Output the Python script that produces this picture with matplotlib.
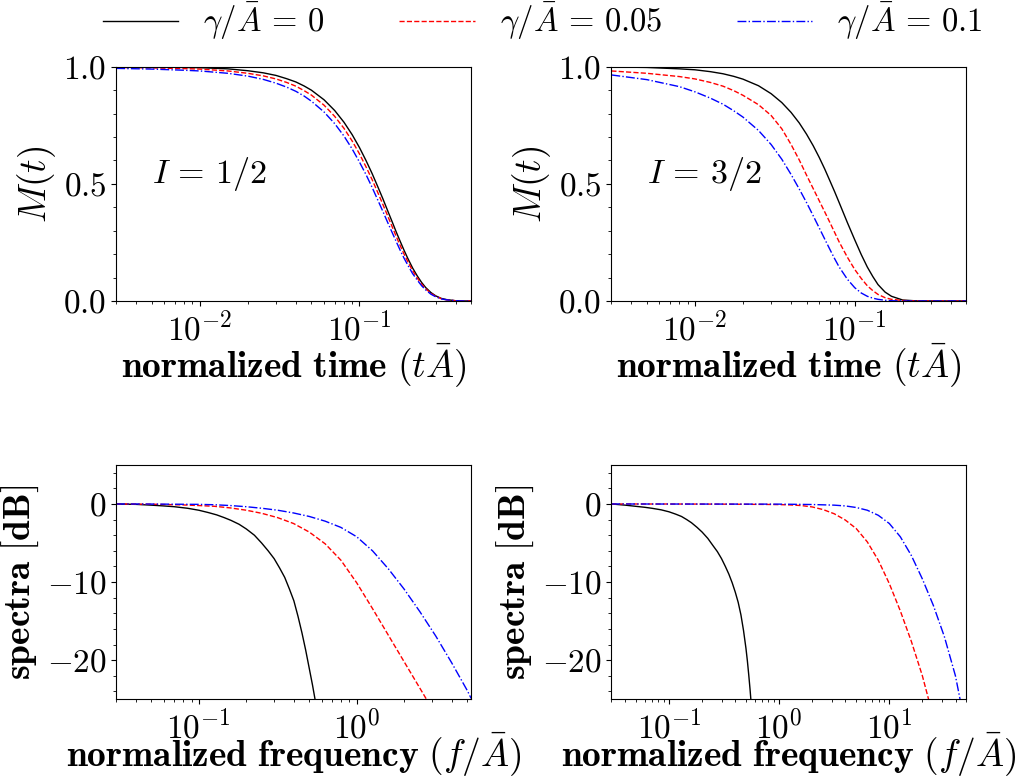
import numpy as np
import matplotlib
matplotlib.use('Agg')
import matplotlib.pyplot as plt
from matplotlib.ticker import AutoMinorLocator

plt.rcParams['mathtext.fontset'] = 'cm'
plt.rcParams['font.family'] = 'serif'
plt.rcParams['font.serif'] = ['cmr10']
plt.rcParams['axes.formatter.use_mathtext'] = True
plt.rcParams['axes.unicode_minus'] = True

# legend labels
labels = [r'$\gamma/\bar{A}\,=\,0$', r'$\gamma/\bar{A}\,=\,0.05$', r'$\gamma/\bar{A}\,=\,0.1$']

# ---- time domain, I = 1/2
t_half = [0.003, 0.005, 0.008, 0.01, 0.015, 0.02, 0.025, 0.03, 0.035, 0.04, 0.045, 0.05,
          0.06, 0.07, 0.08, 0.09, 0.1, 0.11, 0.12, 0.13, 0.14, 0.15, 0.16, 0.17, 0.18, 0.19,
          0.2, 0.215, 0.23, 0.245, 0.26, 0.28, 0.3, 0.325, 0.35, 0.4, 0.45, 0.5]
M_half_0 = [1.000, 0.999, 0.997, 0.996, 0.991, 0.983, 0.974, 0.963, 0.949, 0.935, 0.918, 0.900,
            0.859, 0.813, 0.763, 0.710, 0.655, 0.599, 0.544, 0.489, 0.437, 0.386, 0.339, 0.294,
            0.254, 0.217, 0.184, 0.141, 0.107, 0.079, 0.057, 0.036, 0.022, 0.011, 0.006, 0.001,
            0.0, 0.0]
M_half_1 = [0.997, 0.995, 0.992, 0.990, 0.982, 0.972, 0.961, 0.948, 0.933, 0.917, 0.898, 0.879,
            0.836, 0.788, 0.737, 0.683, 0.628, 0.572, 0.518, 0.464, 0.413, 0.364, 0.318, 0.275,
            0.236, 0.201, 0.170, 0.130, 0.098, 0.072, 0.052, 0.033, 0.020, 0.010, 0.005, 0.001,
            0.0, 0.0]
M_half_2 = [0.993, 0.990, 0.985, 0.982, 0.972, 0.960, 0.946, 0.930, 0.913, 0.895, 0.875, 0.853,
            0.807, 0.757, 0.704, 0.649, 0.593, 0.539, 0.485, 0.432, 0.383, 0.336, 0.293, 0.253,
            0.216, 0.183, 0.155, 0.117, 0.089, 0.065, 0.047, 0.029, 0.018, 0.009, 0.005, 0.001,
            0.0, 0.0]

# ---- time domain, I = 3/2
t_3half = [0.003, 0.005, 0.008, 0.01, 0.0125, 0.015, 0.0175, 0.02, 0.025, 0.03, 0.035, 0.04,
           0.045, 0.05, 0.055, 0.06, 0.065, 0.07, 0.075, 0.08, 0.09, 0.1, 0.11, 0.12, 0.13,
           0.14, 0.155, 0.17, 0.2, 0.25, 0.3, 0.5]
M_3half_0 = [0.999, 0.997, 0.991, 0.987, 0.979, 0.970, 0.959, 0.947, 0.919, 0.885, 0.847, 0.805,
             0.760, 0.712, 0.663, 0.613, 0.563, 0.513, 0.466, 0.420, 0.335, 0.262, 0.198, 0.145,
             0.104, 0.070, 0.038, 0.020, 0.004, 0.0, 0.0, 0.0]
M_3half_1 = [0.982, 0.972, 0.958, 0.948, 0.933, 0.917, 0.898, 0.878, 0.838, 0.792, 0.735, 0.668,
             0.602, 0.537, 0.480, 0.428, 0.380, 0.335, 0.292, 0.252, 0.187, 0.135, 0.096, 0.065,
             0.044, 0.028, 0.014, 0.007, 0.002, 0.0, 0.0, 0.0]
M_3half_2 = [0.965, 0.945, 0.915, 0.893, 0.866, 0.840, 0.812, 0.785, 0.728, 0.668, 0.605, 0.540,
             0.478, 0.420, 0.364, 0.312, 0.264, 0.220, 0.180, 0.145, 0.093, 0.057, 0.034, 0.020,
             0.012, 0.007, 0.003, 0.001, 0.0, 0.0, 0.0, 0.0]

# ---- spectra, I = 1/2
f_half_0 = [0.03, 0.04, 0.05, 0.06, 0.07, 0.085, 0.1, 0.115, 0.13, 0.145, 0.16, 0.18, 0.2,
            0.225, 0.25, 0.275, 0.3, 0.325, 0.35, 0.375, 0.4, 0.425, 0.45, 0.475, 0.5, 0.525, 0.55]
S_half_0 = [0.0, -0.05, -0.15, -0.25, -0.35, -0.55, -0.8, -1.1, -1.4, -1.75, -2.1, -2.6, -3.2,
            -4.0, -5.0, -6.0, -7.0, -8.2, -9.4, -10.9, -12.4, -14.4, -16.5, -18.7, -21.0, -23.2, -25.5]
f_half_1 = [0.03, 0.05, 0.079, 0.1, 0.126, 0.158, 0.2, 0.251, 0.316, 0.398, 0.501, 0.631,
            0.794, 1.0, 1.259, 1.585, 1.995, 2.512, 2.818]
S_half_1 = [0.0, -0.03, -0.12, -0.2, -0.3, -0.5, -0.8, -1.2, -1.75, -2.5, -3.6, -5.1, -7.2,
            -10.1, -13.4, -16.8, -20.2, -23.6, -25.3]
f_half_2 = [0.03, 0.05, 0.1, 0.126, 0.158, 0.2, 0.251, 0.316, 0.398, 0.501, 0.631, 0.794, 1.0,
            1.259, 1.585, 1.995, 2.512, 3.162, 3.981, 5.012, 5.3]
S_half_2 = [0.0, -0.01, -0.05, -0.1, -0.2, -0.35, -0.55, -0.8, -1.15, -1.6, -2.2, -3.0, -4.2,
            -6.0, -8.3, -10.9, -13.8, -16.9, -20.3, -23.9, -24.9]

# ---- spectra, I = 3/2
f_3half_0 = [0.03, 0.04, 0.05, 0.06, 0.07, 0.085, 0.1, 0.115, 0.13, 0.145, 0.16, 0.18, 0.2,
             0.225, 0.25, 0.275, 0.3, 0.325, 0.35, 0.375, 0.4, 0.425, 0.45, 0.475, 0.5, 0.515,
             0.53, 0.545, 0.555]
S_3half_0 = [0.0, -0.15, -0.3, -0.42, -0.55, -0.75, -1.0, -1.3, -1.6, -2.0, -2.4, -3.0, -3.6,
             -4.4, -5.3, -6.1, -7.0, -8.0, -9.0, -10.1, -11.3, -12.6, -14.2, -16.2, -18.5, -20.1,
             -21.9, -23.8, -25.2]
f_3half_1 = [0.03, 0.1, 0.3, 0.5, 0.79, 1.0, 1.26, 1.58, 2.0, 2.51, 3.16, 3.98, 5.01, 6.31,
             7.94, 10.0, 12.59, 15.85, 19.95, 22.9]
S_3half_1 = [0.0, -0.005, -0.02, -0.04, -0.06, -0.08, -0.12, -0.2, -0.38, -0.72, -1.25, -2.05,
             -3.15, -4.85, -7.2, -10.2, -13.7, -17.6, -22.0, -25.2]
f_3half_2 = [0.03, 1.0, 2.0, 3.16, 3.98, 5.01, 6.31, 7.94, 10.0, 12.59, 15.85, 19.95, 25.12,
             31.62, 39.81, 44.0]
S_3half_2 = [0.0, -0.02, -0.07, -0.15, -0.25, -0.45, -0.8, -1.45, -2.5, -4.2, -6.6, -9.6,
             -13.0, -17.0, -22.0, -25.1]

colors = ['k', 'r', 'b']
styles = ['-', '--', '-.']

fs_tick = 24
fs_label = 27

fig, axes = plt.subplots(2, 2, figsize=(10.28, 7.76), dpi=100)
plt.subplots_adjust(left=0.113, right=0.94, top=0.914, bottom=0.099, wspace=0.395, hspace=0.70)

time_sets = [(t_half, [M_half_0, M_half_1, M_half_2], r'$I\,=\,1/2$'),
             (t_3half, [M_3half_0, M_3half_1, M_3half_2], r'$I\,=\,3/2$')]
spec_sets = [([f_half_0, f_half_1, f_half_2], [S_half_0, S_half_1, S_half_2], (0.03, 5.3)),
             ([f_3half_0, f_3half_1, f_3half_2], [S_3half_0, S_3half_1, S_3half_2], (0.03, 50))]

lines = []
for j in range(2):
    ax = axes[0, j]
    t, Ms, txt = time_sets[j]
    for k in range(3):
        l, = ax.plot(t, Ms[k], color=colors[k], linestyle=styles[k], linewidth=1)
        if j == 0:
            lines.append(l)
    ax.set_xscale('log')
    ax.set_xlim(0.003, 0.5)
    ax.set_ylim(0, 1)
    ax.set_yticks([0, 0.5, 1.0])
    ax.yaxis.set_minor_locator(AutoMinorLocator(5))
    ax.set_xlabel(r'$\mathbf{normalized\ time}\ (t\bar{A})$', fontsize=fs_label, labelpad=-4)
    ax.set_ylabel(r'$M(t)$', fontsize=fs_label)
    ax.text(0.1, 0.54, txt, transform=ax.transAxes, fontsize=24.5, va='center')
    ax.tick_params(labelsize=fs_tick)

for j in range(2):
    ax = axes[1, j]
    fs, Ss, xl = spec_sets[j]
    for k in range(3):
        ax.plot(fs[k], Ss[k], color=colors[k], linestyle=styles[k], linewidth=1)
    ax.set_xscale('log')
    ax.set_xlim(*xl)
    ax.set_ylim(-25, 5)
    ax.set_yticks([-20, -10, 0])
    ax.yaxis.set_minor_locator(AutoMinorLocator(5))
    ax.set_xlabel(r'$\mathbf{normalized\ frequency}\ (f/\bar{A})$', fontsize=fs_label, labelpad=-10)
    ax.set_ylabel(r'$\mathbf{spectra\ [dB]}$', fontsize=fs_label)
    ax.tick_params(labelsize=fs_tick)

fig.legend(lines, labels, loc='center', bbox_to_anchor=(0.528, 0.972), ncol=3, frameon=False,
           fontsize=23.5, handlelength=2.3, handletextpad=0.77, columnspacing=2.3)

plt.savefig('out.png', dpi=100)
